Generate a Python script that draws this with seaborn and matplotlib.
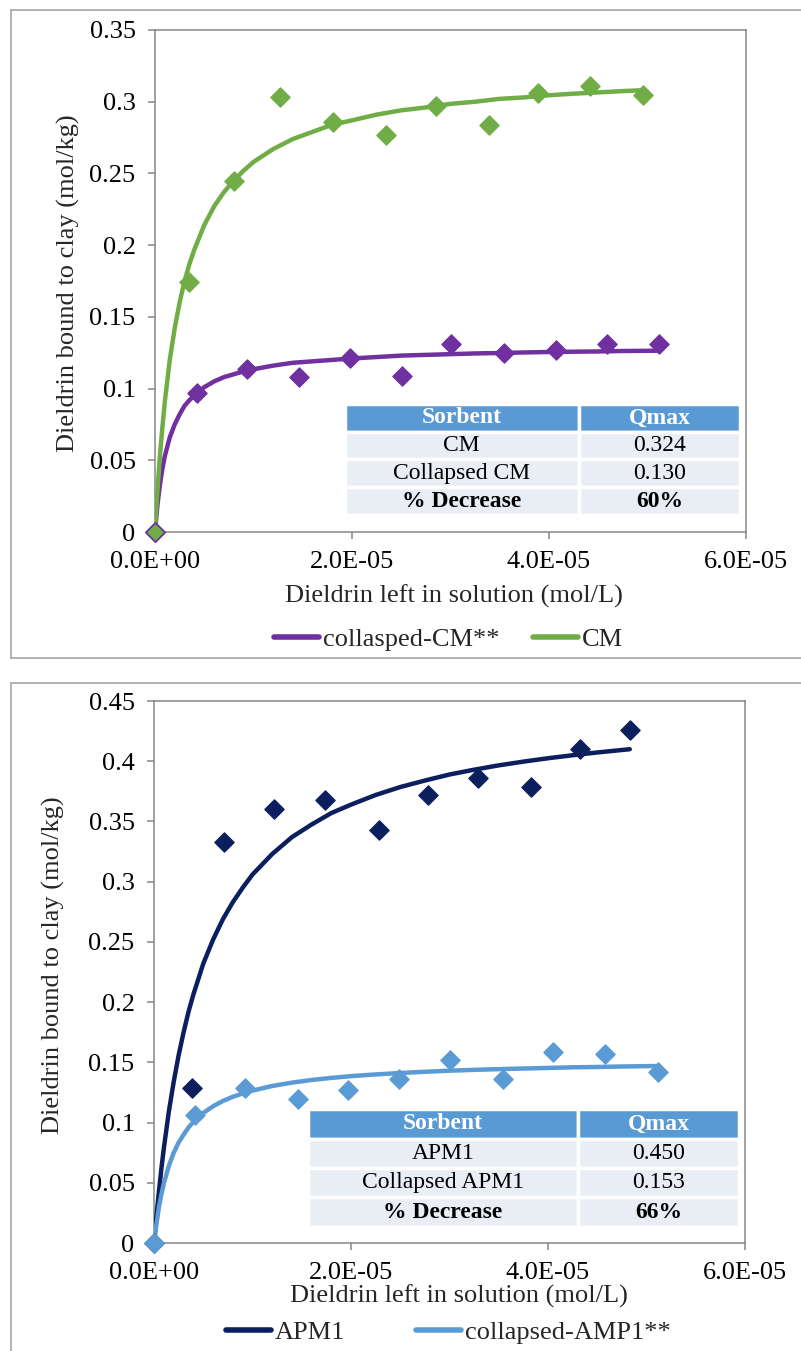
import numpy as np
import pandas as pd
import matplotlib.pyplot as plt
import seaborn as sns
from matplotlib.lines import Line2D
from matplotlib.ticker import FixedLocator, FuncFormatter

# Top panel: CM vs collapsed CM
cm_x = [0, 3.5e-6, 8.0e-6, 1.27e-5, 1.81e-5, 2.35e-5, 2.85e-5, 3.39e-5, 3.89e-5, 4.42e-5, 4.95e-5]
cm_y = [0, 0.174, 0.245, 0.303, 0.286, 0.277, 0.297, 0.284, 0.306, 0.311, 0.305]

ccm_x = [0, 4.26e-6, 9.35e-6, 1.465e-5, 1.98e-5, 2.51e-5, 3.01e-5, 3.54e-5, 4.07e-5, 4.59e-5, 5.12e-5]
ccm_y = [0, 0.097, 0.114, 0.108, 0.121, 0.109, 0.131, 0.125, 0.127, 0.131, 0.131]

# fitted curves
fit_x_common = [0, 2.5e-7, 5e-7, 7.5e-7, 1e-6, 1.5e-6, 2e-6, 2.5e-6, 3e-6, 3.5e-6, 4e-6,
                5e-6, 6e-6, 7e-6, 8e-6, 9e-6, 1e-5, 1.2e-5, 1.4e-5, 1.6e-5, 1.8e-5, 2e-5,
                2.25e-5, 2.5e-5, 2.75e-5, 3e-5, 3.25e-5, 3.5e-5, 3.75e-5, 4e-5, 4.25e-5, 4.5e-5]

cm_fit_x = fit_x_common + [4.75e-5, 4.95e-5]
cm_fit_y = [0, 0.029, 0.053, 0.073, 0.091, 0.120, 0.142, 0.160, 0.175, 0.187, 0.197,
            0.214, 0.227, 0.237, 0.245, 0.252, 0.258, 0.267, 0.274, 0.279, 0.284, 0.287,
            0.291, 0.294, 0.296, 0.2985, 0.300, 0.302, 0.303, 0.3045, 0.3056, 0.3065,
            0.3074, 0.308]

ccm_fit_x = fit_x_common + [4.75e-5, 5.12e-5]
ccm_fit_y = [0, 0.019, 0.033, 0.044, 0.053, 0.066, 0.075, 0.082, 0.088, 0.092, 0.095,
             0.101, 0.105, 0.108, 0.110, 0.112, 0.1135, 0.116, 0.118, 0.119, 0.120, 0.121,
             0.122, 0.123, 0.1235, 0.124, 0.1245, 0.1248, 0.1252, 0.1255, 0.1257, 0.1259,
             0.1262, 0.1264]

# Bottom panel: APM1 vs collapsed APM1
apm_x = [0, 3.89e-6, 7.15e-6, 1.218e-5, 1.731e-5, 2.28e-5, 2.777e-5, 3.29e-5, 3.83e-5, 4.32e-5, 4.83e-5]
apm_y = [0, 0.129, 0.333, 0.360, 0.368, 0.343, 0.372, 0.386, 0.379, 0.410, 0.426]

capm_x = [0, 4.15e-6, 9.22e-6, 1.461e-5, 1.974e-5, 2.492e-5, 3.0e-5, 3.539e-5, 4.046e-5, 4.575e-5, 5.12e-5]
capm_y = [0, 0.106, 0.129, 0.120, 0.127, 0.136, 0.152, 0.136, 0.159, 0.157, 0.142]

apm_fit_x = fit_x_common + [4.83e-5]
apm_fit_y = [0, 0.023, 0.043, 0.062, 0.079, 0.109, 0.134, 0.156, 0.175, 0.192, 0.2065,
             0.232, 0.252, 0.269, 0.283, 0.295, 0.306, 0.323, 0.337, 0.3475, 0.357, 0.364,
             0.372, 0.3786, 0.384, 0.389, 0.393, 0.3966, 0.3997, 0.4025, 0.405, 0.4073,
             0.410]

capm_fit_x = fit_x_common + [4.75e-5, 5.12e-5]
capm_fit_y = [0, 0.016, 0.030, 0.0405, 0.0496, 0.064, 0.075, 0.0835, 0.090, 0.096, 0.1006,
              0.108, 0.1136, 0.118, 0.1214, 0.1242, 0.1266, 0.1304, 0.1332, 0.1354, 0.1371,
              0.1386, 0.140, 0.1412, 0.1422, 0.1431, 0.1438, 0.1444, 0.1449, 0.1454, 0.1459,
              0.1462, 0.1466, 0.147]

# Table contents
top_table = [["CM", "0.324"], ["Collapsed CM", "0.130"], ["% Decrease", "60%"]]
bot_table = [["APM1", "0.450"], ["Collapsed APM1", "0.153"], ["% Decrease", "66%"]]
table_header = ["Sorbent", "Qmax"]

x_ticks = [0, 2e-5, 4e-5, 6e-5]
top_y_ticks = [0, 0.05, 0.1, 0.15, 0.2, 0.25, 0.3, 0.35]
bot_y_ticks = [0, 0.05, 0.1, 0.15, 0.2, 0.25, 0.3, 0.35, 0.4, 0.45]

GREEN = "#70AD47"
PURPLE = "#7030A0"
NAVY = "#0B1F5E"
LIGHT = "#5B9BD5"
GRID_GRAY = "#868686"

sns.set_style("white")
plt.rcParams['font.family'] = ['Liberation Serif', 'DejaVu Serif']

fig = plt.figure(figsize=(8.01, 13.51), dpi=100)
ax_top = fig.add_axes([0.1935, 0.6062, 0.7378, 0.3716])
ax_bot = fig.add_axes([0.1923, 0.0799, 0.7378, 0.4012])


def style_axes(ax, yticks):
    ax.set_xlim(0, 6e-5)
    ax.set_ylim(0, yticks[-1])
    ax.xaxis.set_major_locator(FixedLocator(x_ticks))
    ax.yaxis.set_major_locator(FixedLocator(yticks))
    ax.xaxis.set_major_formatter(FuncFormatter(lambda v, p: "{:.1E}".format(v)))
    ax.yaxis.set_major_formatter(FuncFormatter(lambda v, p: "{:g}".format(round(v, 2))))
    for sp in ax.spines.values():
        sp.set_color(GRID_GRAY)
        sp.set_linewidth(1.1)
        sp.set_visible(True)
    ax.tick_params(axis='both', which='major', direction='out', length=5, width=1.1,
                   color=GRID_GRAY, labelsize=19, pad=9, labelcolor='black',
                   bottom=True, left=True)
    ax.set_ylabel("Dieldrin bound to clay (mol/kg)", fontsize=19)
    ax.set_xlabel("Dieldrin left in solution (mol/L)", fontsize=19)


def draw_series(ax, x, y, fx, fy, color, edge):
    sns.lineplot(x=fx, y=fy, color=color, linewidth=3.2, estimator=None, ax=ax, zorder=3)
    sns.scatterplot(x=x, y=y, marker='D', s=95, color=color, edgecolor=edge,
                    linewidth=1.0, ax=ax, zorder=4, clip_on=False)


def add_table(ax, rows, bbox, first_col):
    tbl = ax.table(cellText=rows, colLabels=table_header, bbox=bbox,
                   colWidths=[first_col, 1 - first_col], cellLoc='center')
    tbl.auto_set_font_size(False)
    tbl.set_fontsize(17)
    for (r, c), cell in tbl.get_celld().items():
        cell.set_edgecolor('white')
        cell.set_linewidth(2.5)
        txt = cell.get_text()
        txt.set_fontfamily(['Liberation Serif', 'DejaVu Serif'])
        if r == 0:
            cell.set_facecolor("#5A9AD4")
            txt.set_color('white')
            txt.set_fontweight('bold')
        else:
            cell.set_facecolor("#E9EDF4")
            txt.set_color('black')
        if r == len(rows):
            txt.set_fontweight('bold')
    tbl.set_zorder(2)
    return tbl


# top panel
draw_series(ax_top, ccm_x, ccm_y, ccm_fit_x, ccm_fit_y, PURPLE, PURPLE)
draw_series(ax_top, cm_x, cm_y, cm_fit_x, cm_fit_y, GREEN, GREEN)
sns.scatterplot(x=[cm_x[0]], y=[cm_y[0]], marker='D', s=95, color=GREEN,
                edgecolor=PURPLE, linewidth=1.2, ax=ax_top, zorder=5, clip_on=False)
style_axes(ax_top, top_y_ticks)
add_table(ax_top, top_table, [0.321, 0.034, 0.669, 0.221], 0.592)
ax_top.yaxis.set_label_coords(-0.127, 0.496)
ax_top.xaxis.set_label_coords(0.506, -0.105)

top_handles = [Line2D([], [], color=PURPLE, lw=4), Line2D([], [], color=GREEN, lw=4)]
fig.legend(top_handles, ["collasped-CM**", "CM"], loc='center',
           bbox_to_anchor=(0.56, 0.527), ncol=2, frameon=False, fontsize=19,
           handlelength=1.7, handletextpad=0.15, columnspacing=1.3)

# bottom panel
draw_series(ax_bot, apm_x, apm_y, apm_fit_x, apm_fit_y, NAVY, NAVY)
draw_series(ax_bot, capm_x, capm_y, capm_fit_x, capm_fit_y, LIGHT, LIGHT)
style_axes(ax_bot, bot_y_ticks)
add_table(ax_bot, bot_table, [0.26, 0.03, 0.73, 0.217], 0.626)
ax_bot.yaxis.set_label_coords(-0.151, 0.513)
ax_bot.xaxis.set_label_coords(0.516, -0.077)

bot_handles = [Line2D([], [], color=NAVY, lw=4), Line2D([], [], color=LIGHT, lw=4)]
fig.legend(bot_handles, ["APM1", "collapsed-AMP1**"], loc='center',
           bbox_to_anchor=(0.56, 0.0135), ncol=2, frameon=False, fontsize=19,
           handlelength=1.7, handletextpad=0.15, columnspacing=2.7)

# chart area borders
frame_col = "#A6A6A6"
fig.add_artist(Line2D([0.0137, 1.0], [0.9926, 0.9926], color=frame_col, lw=1.2, transform=fig.transFigure))
fig.add_artist(Line2D([0.0137, 0.0137], [0.513, 0.9926], color=frame_col, lw=1.2, transform=fig.transFigure))
fig.add_artist(Line2D([0.0137, 1.0], [0.513, 0.513], color=frame_col, lw=1.2, transform=fig.transFigure))
fig.add_artist(Line2D([0.0137, 1.0], [0.4944, 0.4944], color=frame_col, lw=1.2, transform=fig.transFigure))
fig.add_artist(Line2D([0.0137, 0.0137], [0.0, 0.4944], color=frame_col, lw=1.2, transform=fig.transFigure))

fig.savefig("out.png", dpi=100)
